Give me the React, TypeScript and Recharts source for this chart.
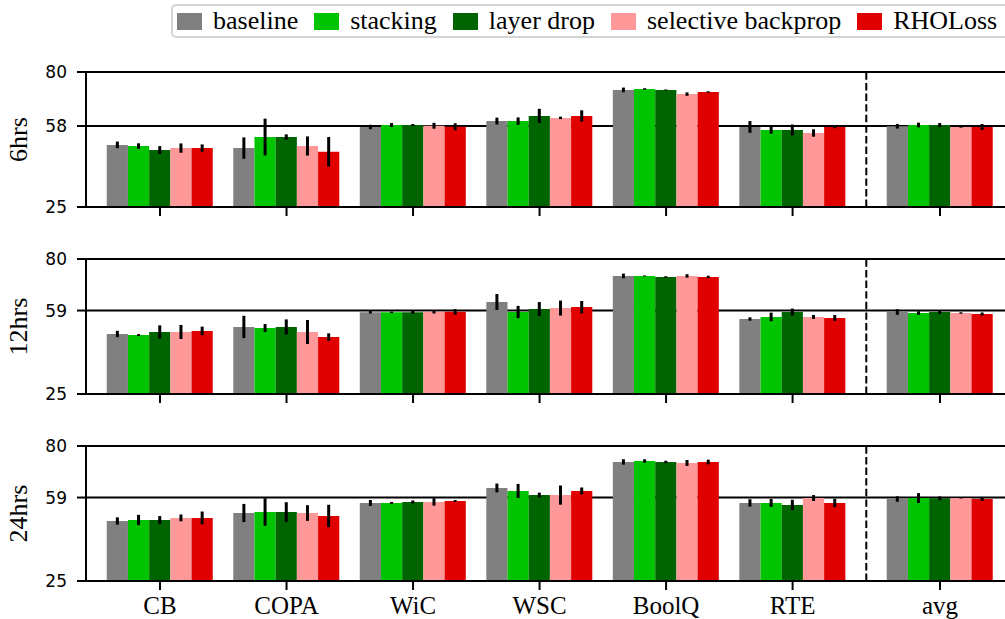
import React from "react";
import { BarChart, Bar, XAxis, YAxis, CartesianGrid, ErrorBar, ReferenceLine, Legend } from "recharts";

const categories = ["CB", "COPA", "WiC", "WSC", "BoolQ", "RTE", "avg"];
const categoryX = [0, 1, 2, 3, 4, 5, 6.165];
const separatorX = 5.5825;
const seriesNames = ["baseline", "stacking", "layer drop", "selective backprop", "RHOLoss"];
const panelLabels = ["6hrs", "12hrs", "24hrs"];
const panelMidTicks = [58, 59, 59];

// 6hrs
const baseline6 = [50.3, 49.0, 57.6, 60.0, 72.7, 57.6, 57.9];
const stacking6 = [49.85, 53.5, 58.4, 60.0, 73.1, 56.4, 58.4];
const layerDrop6 = [48.2, 53.5, 58.4, 62.1, 72.7, 56.4, 58.4];
const selective6 = [49.0, 49.85, 58.1, 61.3, 71.0, 55.15, 57.6];
const rholoss6 = [49.0, 47.5, 57.7, 62.1, 71.85, 57.6, 57.6];
const baselineErr6 = [1.35, 4.35, 0.9, 1.4, 0.95, 2.4, 0.95];
const stackingErr6 = [1.1, 7.5, 0.8, 1.5, 0.3, 1.5, 0.95];
const layerDropErr6 = [1.6, 1.1, 0.4, 2.9, 0.2, 2.2, 0.8];
const selectiveErr6 = [1.9, 3.9, 1.2, 0.5, 0.7, 1.5, 0.3];
const rholossErr6 = [1.5, 6.0, 1.4, 2.3, 0.3, 0.5, 1.2];

// 12hrs
const baseline12 = [49.45, 52.3, 58.3, 62.5, 73.1, 55.55, 58.4];
const stacking12 = [49.0, 51.9, 58.3, 58.4, 73.1, 56.4, 58.0];
const layerDrop12 = [50.26, 52.3, 58.3, 59.6, 72.7, 58.4, 58.4];
const selective12 = [50.26, 50.26, 58.5, 60.0, 73.1, 56.4, 58.0];
const rholoss12 = [50.7, 48.2, 58.5, 60.4, 72.7, 56.0, 57.6];
const baselineErr12 = [1.3, 4.55, 0.5, 3.25, 0.95, 0.7, 1.15];
const stackingErr12 = [0.4, 1.6, 0.3, 2.5, 0.2, 1.75, 0.7];
const layerDropErr12 = [2.7, 3.1, 0.6, 2.85, 0.3, 1.4, 0.7];
const selectiveErr12 = [2.85, 4.9, 0.7, 3.05, 0.7, 0.8, 0.3];
const rholossErr12 = [1.75, 1.5, 1.1, 2.5, 0.5, 1.2, 0.6];

// 24hrs
const baseline24 = [49.45, 52.7, 56.8, 62.9, 73.5, 56.8, 58.4];
const stacking24 = [49.85, 53.1, 56.8, 61.7, 73.9, 56.8, 58.8];
const layerDrop24 = [49.85, 53.1, 57.2, 60.0, 73.5, 56.0, 58.7];
const selective24 = [50.7, 52.7, 57.2, 60.0, 73.1, 58.8, 58.8];
const rholoss24 = [50.7, 51.5, 57.6, 61.7, 73.5, 56.8, 58.4];
const baselineErr24 = [1.5, 3.7, 1.2, 1.8, 1.1, 1.5, 1.1];
const stackingErr24 = [2.1, 5.6, 0.4, 2.85, 0.7, 1.6, 2.0];
const layerDropErr24 = [1.6, 4.0, 0.6, 1.0, 0.5, 2.1, 0.75];
const selectiveErr24 = [1.4, 3.2, 1.5, 3.9, 1.2, 1.2, 0.2];
const rholossErr24 = [2.6, 4.55, 0.4, 1.4, 0.95, 1.7, 0.7];

const COLORS = ["#808080", "#00c400", "#006400", "#ff9999", "#e00000"];
const SERIF = "'Liberation Serif', 'Times New Roman', serif";
const SANS = "'DejaVu Sans', sans-serif";

const panelValues = [
  [baseline6, stacking6, layerDrop6, selective6, rholoss6],
  [baseline12, stacking12, layerDrop12, selective12, rholoss12],
  [baseline24, stacking24, layerDrop24, selective24, rholoss24],
];
const panelErrors = [
  [baselineErr6, stackingErr6, layerDropErr6, selectiveErr6, rholossErr6],
  [baselineErr12, stackingErr12, layerDropErr12, selectiveErr12, rholossErr12],
  [baselineErr24, stackingErr24, layerDropErr24, selectiveErr24, rholossErr24],
];

function buildRows(values: number[][], errors: number[][]) {
  return categories.map((name, i) => {
    const row: any = { name, x: categoryX[i] };
    values.forEach((v, s) => {
      row[`s${s}`] = v[i];
      row[`e${s}`] = errors[s][i];
    });
    return row;
  });
}

function LegendBox(props: any) {
  const items = seriesNames.map((n, i) => ({ value: n, color: COLORS[i] }));
  return (
    <div
      style={{
        display: "inline-flex",
        alignItems: "center",
        height: 34,
        boxSizing: "border-box",
        border: "2px solid #d4d4d4",
        borderRadius: 5,
        paddingLeft: 4,
        paddingRight: 14,
        background: "#fff",
        whiteSpace: "nowrap",
        fontFamily: SERIF,
        fontSize: 26,
        lineHeight: 1,
        color: "#000",
      }}
    >
      {items.map((it, i) => (
        <span key={it.value} style={{ display: "inline-flex", alignItems: "center", marginRight: i < items.length - 1 ? 16 : 0 }}>
          <span style={{ display: "inline-block", width: 25, height: 17, background: it.color, marginRight: 11 }} />
          <span>{it.value}</span>
        </span>
      ))}
    </div>
  );
}

const axisStroke = { stroke: "#000", strokeWidth: 2 };

function Panel({ index }: { index: number }) {
  const data = buildRows(panelValues[index], panelErrors[index]);
  const isFirst = index === 0;
  const isLast = index === 2;
  const tops = [0, 240, 427];
  const marginTop = isFirst ? 72 : 19;
  const xHeight = isLast ? 38 : 12;
  const height = marginTop + 135 + xHeight;
  return (
    <div style={{ position: "absolute", left: 0, top: tops[index] }}>
      <BarChart
        width={1020}
        height={height}
        data={data}
        margin={{ top: marginTop, right: 6, bottom: 0, left: 0 }}
        barGap={0}
      >
        <CartesianGrid horizontal vertical={false} stroke="#000" strokeWidth={2} />
        <XAxis
          type="number"
          dataKey="x"
          domain={[-0.585, 6.75]}
          allowDataOverflow
          ticks={categoryX}
          interval={0}
          height={xHeight}
          tickSize={9}
          tickMargin={6}
          axisLine={axisStroke}
          tickLine={axisStroke}
          tickFormatter={(v: number) => (isLast ? categories[categoryX.indexOf(v)] ?? "" : "")}
          tick={{ fontFamily: SERIF, fontSize: 25, fill: "#000" }}
        />
        <YAxis
          type="number"
          domain={[25, 80]}
          allowDataOverflow
          ticks={[25, panelMidTicks[index], 80]}
          interval={0}
          width={86}
          tickSize={9}
          tickMargin={10}
          axisLine={axisStroke}
          tickLine={axisStroke}
          tick={{ fontFamily: SANS, fontSize: 17, fill: "#000" }}
          label={{
            value: panelLabels[index],
            angle: -90,
            position: "center",
            dx: -25,
            style: { fontFamily: SERIF, fontSize: 26, fill: "#000" },
          }}
        />
        {isFirst && (
          <Legend
            layout="horizontal"
            verticalAlign="middle"
            align="center"
            wrapperStyle={{ top: 4, left: 171, width: 900 }}
            content={(p: any) => <LegendBox {...p} />}
          />
        )}
        {seriesNames.map((name, s) => (
          <Bar key={name} name={name} dataKey={`s${s}`} fill={COLORS[s]} barSize={21.2} isAnimationActive={false}>
            <ErrorBar dataKey={`e${s}`} width={0} strokeWidth={3} stroke="#000" direction="y" />
          </Bar>
        ))}
        <ReferenceLine x={separatorX} stroke="#000" strokeWidth={2} strokeDasharray="7.4 3.2" />
      </BarChart>
    </div>
  );
}

export default function App() {
  return (
    <div
      style={{
        position: "absolute",
        left: 0,
        top: 0,
        width: 1005,
        height: 619,
        overflow: "hidden",
        background: "#fff",
      }}
    >
      <Panel index={0} />
      <Panel index={1} />
      <Panel index={2} />
    </div>
  );
}
